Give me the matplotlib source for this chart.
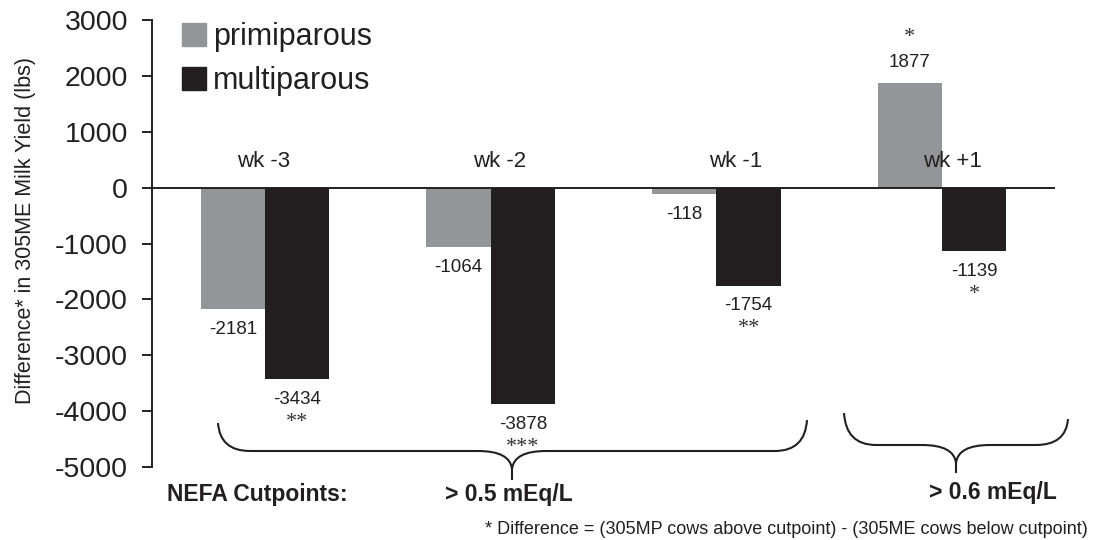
import matplotlib
matplotlib.use("Agg")
import matplotlib.pyplot as plt
from matplotlib.path import Path
from matplotlib.patches import PathPatch, Patch
import numpy as np

# ---- data ----
weeks = ["wk -3", "wk -2", "wk -1", "wk +1"]
primiparous = [-2181, -1064, -118, 1877]
multiparous = [-3434, -3878, -1754, -1139]
sig_primi = ["", "", "", "*"]
sig_multi = ["**", "***", "**", "*"]
yticks = [-5000, -4000, -3000, -2000, -1000, 0, 1000, 2000, 3000]
series_names = ["primiparous", "multiparous"]
cutpoint_title = "NEFA Cutpoints:"
cutpoints = ["> 0.5 mEq/L", "> 0.6 mEq/L"]
footnote = "* Difference = (305MP cows above cutpoint) - (305ME cows below cutpoint)"
ylabel = "Difference* in 305ME Milk Yield (lbs)"

# ---- style ----
W, H = 1095, 540
GRAY = "#939598"
BLACK = "#231f20"
plt.rcParams["font.family"] = ["Liberation Sans", "DejaVu Sans"]

fig = plt.figure(figsize=(W / 100, H / 100), dpi=100)
ax = fig.add_axes([152 / W, 1 - 467 / H, (1055 - 152) / W, (467 - 20) / H])

x = np.arange(len(weeks))
bw = 0.285
ax.bar(x - bw / 2, primiparous, bw, color=GRAY, zorder=2)
ax.bar(x + bw / 2, multiparous, bw, color=BLACK, zorder=2)
ax.axhline(0, color=BLACK, lw=1.4, zorder=3)

ax.set_xlim(-0.5, 3.5)
ax.set_ylim(-5000, 3000)
ax.set_yticks(yticks)
ax.set_yticklabels([str(v) for v in yticks])
ax.set_xticks([])
for s in ["top", "right", "bottom"]:
    ax.spines[s].set_visible(False)
ax.spines["left"].set_linewidth(1.4)
ax.spines["left"].set_color(BLACK)
ax.tick_params(axis="y", length=7.2, width=1.4, color=BLACK, pad=10,
               labelsize=20.5, labelcolor=BLACK)
ax.set_ylabel(ylabel, fontsize=15.5, color=BLACK)
ax.yaxis.set_label_coords(-0.128, 0.53)

# week labels
wk_dx = [-0.004, 0.04, 0.084, 0.044]
for i, lab in enumerate(weeks):
    ax.text(i + wk_dx[i], 460, lab, ha="center", va="center", fontsize=16, color=BLACK)

# value labels
def label(xpos, val, sig):
    d = 20 if val > 0 else -20
    ax.annotate(str(val), (xpos, val), xytext=(0, d), textcoords="offset pixels",
                ha="center", va="center", fontsize=13.5, color=BLACK)
    if sig:
        ds = 45 if val > 0 else -43
        ax.annotate(sig, (xpos, val), xytext=(0, ds), textcoords="offset pixels",
                    ha="center", va="center", fontsize=16, color="#333333",
                    family="Liberation Serif")

for i in range(len(weeks)):
    label(x[i] - bw / 2, primiparous[i], sig_primi[i])
    label(x[i] + bw / 2, multiparous[i], sig_multi[i])

# legend
handles = [Patch(color=GRAY), Patch(color=BLACK)]
leg = ax.legend(handles, series_names, loc="upper left",
                bbox_to_anchor=(182 / W, 1 - 22 / H), bbox_transform=fig.transFigure,
                frameon=False, fontsize=22, borderpad=0, borderaxespad=0,
                handlelength=0.78, handleheight=0.78, handletextpad=0.23,
                labelspacing=0.46)
for t in leg.get_texts():
    t.set_color(BLACK)

# braces (figure pixel coordinates, y downward)
def P(px, py):
    return (px / W, 1 - py / H)

def brace(x0, x1, xm, ytop_l, ytop_r, yh, ytip):
    verts = [P(x0, ytop_l), P(x0 + 2, yh), P(x0 + 32, yh),
             P(xm - 34, yh),
             P(xm - 2, yh), P(xm, yh + 18),
             P(xm, ytip),
             P(xm, yh + 18), P(xm + 2, yh), P(xm + 34, yh),
             P(x1 - 32, yh),
             P(x1 - 2, yh), P(x1, ytop_r)]
    codes = [Path.MOVETO, Path.CURVE3, Path.CURVE3,
             Path.LINETO,
             Path.CURVE3, Path.CURVE3,
             Path.LINETO,
             Path.MOVETO, Path.CURVE3, Path.CURVE3,
             Path.LINETO,
             Path.CURVE3, Path.CURVE3]
    patch = PathPatch(Path(verts, codes), fill=False, lw=1.5, edgecolor=BLACK,
                      transform=fig.transFigure, clip_on=False)
    fig.add_artist(patch)

brace(218, 807, 512, 423, 420, 451, 480)
brace(844, 1068, 956, 413, 419, 445, 473)

# bottom texts
fig.text(167 / W, 1 - 494 / H, cutpoint_title, ha="left", va="center",
         fontsize=16.5, fontweight="bold", color=BLACK)
fig.text(509 / W, 1 - 494 / H, cutpoints[0], ha="center", va="center",
         fontsize=16.5, fontweight="bold", color=BLACK)
fig.text(993 / W, 1 - 492 / H, cutpoints[1], ha="center", va="center",
         fontsize=16.5, fontweight="bold", color=BLACK)
fig.text(485 / W, 1 - 529 / H, footnote, ha="left", va="center",
         fontsize=13, color=BLACK)

fig.savefig("out.png", dpi=100)
